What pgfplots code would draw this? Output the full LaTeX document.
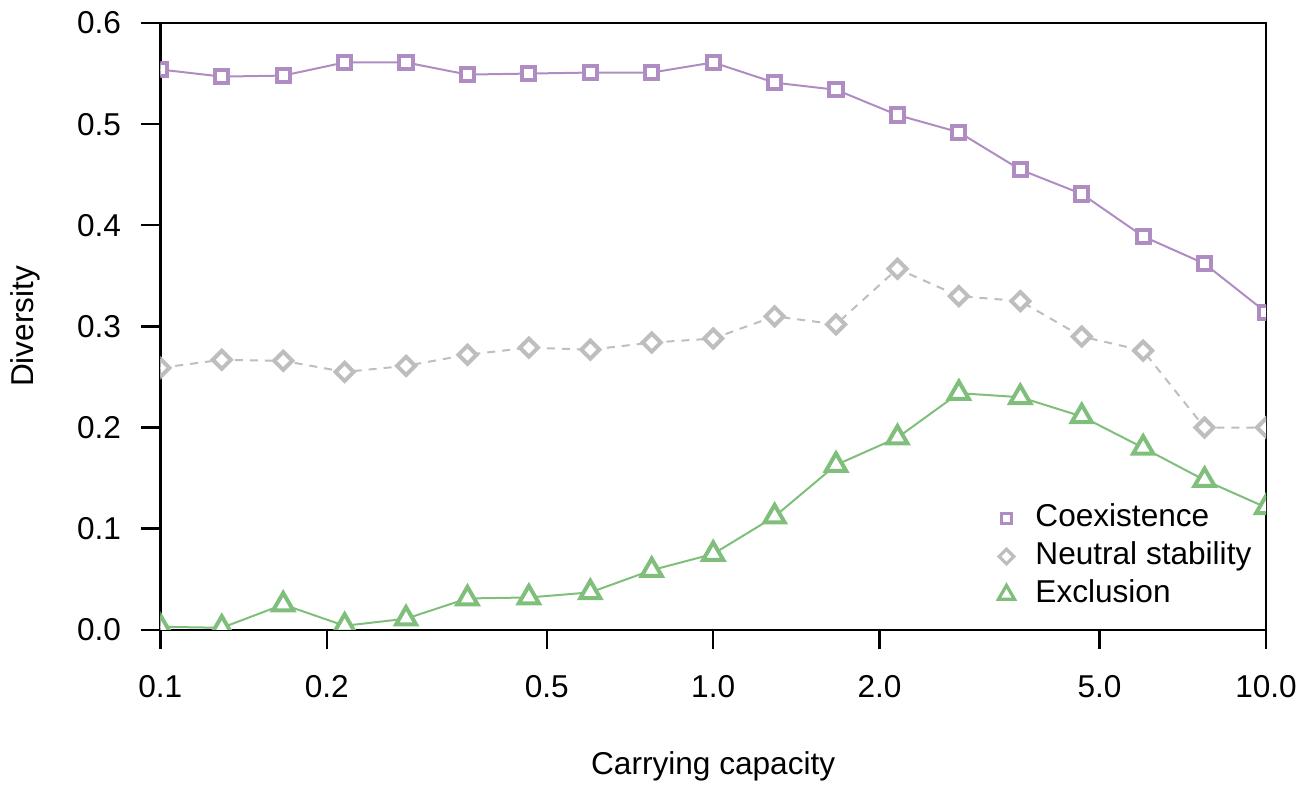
\documentclass[border=0pt]{standalone}
\usepackage{pgfplots}
\pgfplotsset{compat=1.18}
\usepackage{fontspec}
\setmainfont{Liberation Sans}
\definecolor{cpurple}{HTML}{AF8DC3}
\definecolor{cgrey}{HTML}{BEBEBE}
\definecolor{cgreen}{HTML}{7FBF7B}
\pgfplotstableread{
x coex neutral excl
0.1      0.554 0.259 0.003
0.129155 0.547 0.267 0.002
0.166810 0.548 0.266 0.025
0.215443 0.561 0.255 0.004
0.278256 0.561 0.261 0.011
0.359381 0.549 0.272 0.031
0.464159 0.550 0.279 0.032
0.599484 0.551 0.277 0.037
0.774264 0.551 0.284 0.059
1.0      0.561 0.288 0.075
1.291550 0.541 0.310 0.112
1.668101 0.534 0.302 0.163
2.154435 0.509 0.357 0.190
2.782559 0.492 0.330 0.234
3.593814 0.455 0.325 0.230
4.641589 0.431 0.290 0.211
5.994843 0.389 0.276 0.180
7.742637 0.362 0.200 0.148
10.0     0.314 0.200 0.121
}\datatable
\newcommand{\fs}{\fontsize{15.8pt}{18pt}\selectfont}
\begin{document}
\fs
\begin{tikzpicture}
\begin{axis}[
  at={(0,0)}, anchor=south west,
  scale only axis, width=553pt, height=303.5pt,
  xmode=log, xmin=0.1, xmax=10, ymin=0, ymax=0.6,
  clip marker paths=true,
  xtick={0.1,0.2,0.5,1,2,5,10},
  xticklabels={0.1,0.2,0.5,1.0,2.0,5.0,10.0},
  xminorticks=false,
  ytick={0,0.1,0.2,0.3,0.4,0.5,0.6},
  /pgf/number format/.cd, fixed, fixed zerofill, precision=1, assume math mode=true, /pgfplots/.cd,
  tick align=outside, major tick length=9.5pt,
  xtick pos=lower, ytick pos=left,
  tick style={black, line width=1.2pt},
  axis line style={line width=1.2pt},
  tick label style={font=\fs},
  yticklabel style={anchor=east, inner sep=0pt, xshift=-10pt},
  xticklabel style={anchor=base, inner sep=0pt, yshift=-24.5pt},
  xlabel={Carrying capacity}, ylabel={Diversity},
  label style={font=\fs},
  xlabel style={at={(axis description cs:0.5,0)}, anchor=base, yshift=-72.5pt},
  ylabel style={at={(axis description cs:-0.1148,0.5)}, anchor=base},
  legend style={draw=none, fill=none, at={(0.7577,0.208)}, anchor=north west,
    inner sep=0pt, row sep=4.4pt, column sep=10.5pt,
    nodes={inner sep=0pt, text height=11.3pt, text depth=3.3pt},
    font=\fs},
  legend cell align=left,
  legend image code/.code={\path[#1] plot coordinates {(0pt,0pt)};},
]
\addlegendimage{only marks, mark=square, mark size=2.6pt, cpurple, line width=1.6pt}
\addlegendentry{Coexistence}
\addlegendimage{only marks, mark=square, mark size=2.6pt, mark options={rotate=45}, cgrey, line width=1.6pt}
\addlegendentry{Neutral stability}
\addlegendimage{only marks, mark=triangle, mark size=4.6pt, cgreen, line width=1.6pt}
\addlegendentry{Exclusion}
\addplot[forget plot, cpurple, line width=1pt, mark=square*, mark size=3.3pt,
  mark options={fill=white, line width=2pt}] table[x=x, y=coex] {\datatable};
\addplot[forget plot, cgrey, line width=1pt, dash pattern=on 4pt off 3.5pt, mark=square*, mark size=3.2pt,
  mark options={solid, rotate=45, fill=white, line width=2pt}] table[x=x, y=neutral] {\datatable};
\addplot[forget plot, cgreen, line width=1pt, mark=triangle*, mark size=5.8pt,
  mark options={fill=white, line width=2pt}] table[x=x, y=excl] {\datatable};
\end{axis}
\path[use as bounding box] (-80pt,-77pt) rectangle (578pt,315pt);
\end{tikzpicture}
\end{document}
